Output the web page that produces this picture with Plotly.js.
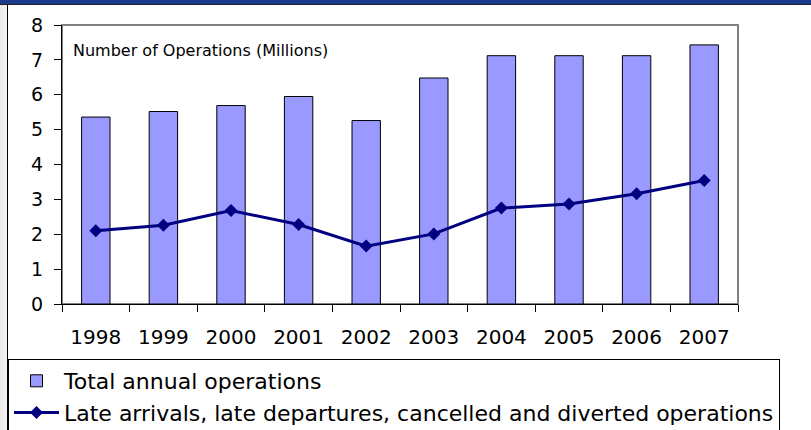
<!DOCTYPE html>
<html>
<head>
<meta charset="utf-8">
<script src="https://cdn.plot.ly/plotly-3.0.1.min.js"></script>
<style>
  html, body { margin: 0; padding: 0; width: 811px; height: 430px; overflow: hidden; background: #ffffff; }
  #wrap { position: relative; width: 811px; height: 430px; }
  #chart { position: absolute; left: 0; top: 0; width: 811px; height: 430px; }
  .deco { position: absolute; pointer-events: none; }
</style>
</head>
<body>
<div id="wrap">
  <div id="chart"></div>
  <div class="deco" style="left:0;top:0;width:7px;height:430px;background:linear-gradient(to right,#ece6e6,#f7f3f3);"></div>
  <div class="deco" style="left:0;top:0;width:811px;height:4px;background:#1c3a8c;"></div>
  <div class="deco" style="left:0;top:4px;width:811px;height:1px;background:#222;"></div>
  <div class="deco" style="left:7px;top:5px;width:1px;height:425px;background:#000;"></div>
</div>
<script>
const years = ["1998","1999","2000","2001","2002","2003","2004","2005","2006","2007"];
const totalOps = [5.36, 5.52, 5.69, 5.95, 5.26, 6.48, 7.12, 7.12, 7.12, 7.43];
const lateOps = [2.10, 2.26, 2.68, 2.28, 1.66, 2.01, 2.75, 2.87, 3.16, 3.54];
const seriesNames = ["Total annual operations", "Late arrivals, late departures, cancelled and diverted operations"];
const annotationText = "Number of Operations (Millions)";

const font = "DejaVu Sans, Liberation Sans, Arial, sans-serif";

const traces = [
  {
    type: "bar", x: years, y: totalOps, name: seriesNames[0],
    width: 0.42,
    marker: { color: "#9999FF", line: { color: "#000000", width: 1 } }
  },
  {
    type: "scatter", mode: "lines+markers", x: years, y: lateOps, name: seriesNames[1],
    line: { color: "#000080", width: 3 },
    marker: { symbol: "diamond", size: 10, color: "#000080" }
  }
];

const layout = {
  width: 811, height: 430,
  margin: { l: 62, r: 73, t: 25, b: 126, pad: 0, autoexpand: false },
  paper_bgcolor: "rgba(0,0,0,0)",
  plot_bgcolor: "#ffffff",
  font: { family: font, color: "#000000" },
  showlegend: true,
  xaxis: {
    type: "category", range: [-0.5, 9.5],
    showline: true, linecolor: "#000000", linewidth: 1,
    ticks: "outside", ticklen: 7, tickcolor: "#000000", tickwidth: 1,
    tickson: "boundaries",
    showgrid: false, zeroline: false, automargin: false,
    tickfont: { family: font, size: 20, color: "#000000" },
    ticklabelstandoff: 15
  },
  yaxis: {
    range: [0, 8], dtick: 1, tick0: 0,
    showline: true, linecolor: "#000000", linewidth: 1,
    ticks: "outside", ticklen: 7, tickcolor: "#000000", tickwidth: 1,
    showgrid: false, zeroline: false, automargin: false,
    tickfont: { family: font, size: 19, color: "#000000" },
    ticklabelstandoff: 7
  },
  xaxis2: {
    overlaying: "x", side: "bottom", anchor: "y", type: "linear", range: [-0.5, 9.5],
    tick0: -0.5, dtick: 1,
    ticks: "inside", ticklen: 7, tickcolor: "#000000", tickwidth: 1,
    showline: false, showticklabels: false, showgrid: false, zeroline: false, automargin: false
  },
  yaxis2: {
    overlaying: "y", side: "left", anchor: "x", range: [0, 8], tick0: 0, dtick: 1,
    ticks: "inside", ticklen: 7, tickcolor: "#000000", tickwidth: 1,
    showline: false, showticklabels: false, showgrid: false, zeroline: false, automargin: false
  },
  shapes: [
    {
      type: "rect", xref: "paper", yref: "paper", x0: 0, x1: 1, y0: 0, y1: 1,
      line: { color: "#808080", width: 2 }, fillcolor: "rgba(0,0,0,0)", layer: "below"
    }
  ],
  legend: {
    xref: "container", yref: "container",
    x: 8 / 811, y: 1 - 359 / 430, xanchor: "left", yanchor: "top",
    orientation: "v",
    bgcolor: "#ffffff", bordercolor: "#000000", borderwidth: 1,
    font: { family: font, size: 22, color: "#000000" },
    itemwidth: 45, traceorder: "normal"
  },
  annotations: [
    {
      xref: "paper", yref: "paper", x: 0.014, y: 0.908,
      xanchor: "left", yanchor: "middle",
      text: annotationText, showarrow: false,
      font: { family: font, size: 16, color: "#000000" }
    }
  ]
};

Plotly.newPlot("chart", traces, layout, { displayModeBar: false, staticPlot: true });
</script>
</body>
</html>
